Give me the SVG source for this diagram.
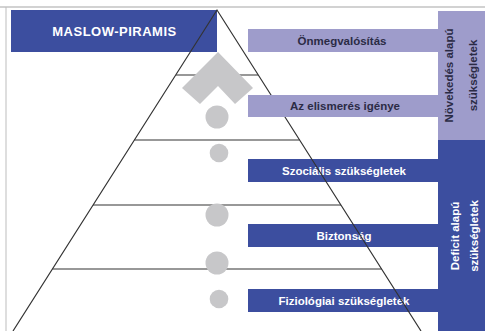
<svg xmlns="http://www.w3.org/2000/svg" width="485" height="331" viewBox="0 0 485 331">
<style>
.t{font-family:"Liberation Sans",Arial,sans-serif;font-weight:bold;font-size:11.5px;text-anchor:middle}
.w{fill:#ffffff}
.d{fill:#2b2b45}
.blue{fill:#3c4e9f}
.lite{fill:#9e9ccb}
.g{fill:#c7c7c9}
.ln{stroke:#333333;stroke-width:1.2;fill:none}
</style>
<rect width="485" height="331" fill="#ffffff"/>
<g id="frame">
<line x1="0" y1="7" x2="485" y2="7" stroke="#d2d2d2" stroke-width="2"/>
<line x1="6" y1="7" x2="6" y2="331" stroke="#bdbdbd" stroke-width="1"/>
</g>
<g id="header">
<rect class="blue" x="11" y="10" width="206" height="42"/>
<text class="t w" x="114.5" y="36" style="font-size:13px;letter-spacing:0.5px">MASLOW-PIRAMIS</text>
</g>
<g id="n-onmegvalositas">
<rect class="lite" x="248" y="29" width="192" height="23"/>
<text class="t d" x="342" y="44.5">Önmegvalósítás</text>
</g>
<g id="n-szocialis">
<rect class="blue" x="248" y="159" width="192" height="23"/>
<text class="t w" x="344" y="174.5">Szociális szükségletek</text>
</g>
<g id="n-biztonsag">
<rect class="blue" x="248" y="224" width="192" height="23"/>
<text class="t w" x="344" y="239.5">Biztonság</text>
</g>
<g id="n-fiziologiai">
<rect class="blue" x="248" y="289" width="192" height="23"/>
<text class="t w" x="344" y="304.5">Fiziológiai szükségletek</text>
</g>
<g id="connectors">
<polyline class="ln" points="13,331 217,10 421,331"/>
<line class="ln" x1="176" y1="75" x2="258" y2="75"/>
<line class="ln" x1="134.5" y1="140" x2="299.5" y2="140"/>
<line class="ln" x1="93" y1="205" x2="341" y2="205"/>
<line class="ln" x1="52.5" y1="269" x2="381.5" y2="269"/>
</g>
<g id="icons">
<polygon class="g" points="218,52 253,88 235,104 218,86 200,104 182,88"/>
<circle class="g" cx="217" cy="117" r="11.5"/>
<circle class="g" cx="219" cy="153" r="9.3"/>
<circle class="g" cx="217" cy="215" r="11.5"/>
<circle class="g" cx="217" cy="263" r="11.5"/>
<circle class="g" cx="219" cy="299" r="9.3"/>
</g>
<g id="n-elismeres">
<rect class="lite" x="248" y="95" width="192" height="22"/>
<text class="t d" x="345" y="110">Az elismerés igénye</text>
</g>
<g id="n-novekedes">
<rect class="lite" x="438" y="11" width="47" height="129"/>
<text class="t d" transform="translate(452.5,75.5) rotate(-90)">Növekedés alapú</text>
<text class="t d" transform="translate(476.5,75.5) rotate(-90)">szükségletek</text>
</g>
<g id="n-deficit">
<rect class="blue" x="438" y="140" width="47" height="191"/>
<text class="t w" transform="translate(459,236) rotate(-90)">Deficit alapú</text>
<text class="t w" transform="translate(478,236) rotate(-90)">szükségletek</text>
</g>
</svg>
